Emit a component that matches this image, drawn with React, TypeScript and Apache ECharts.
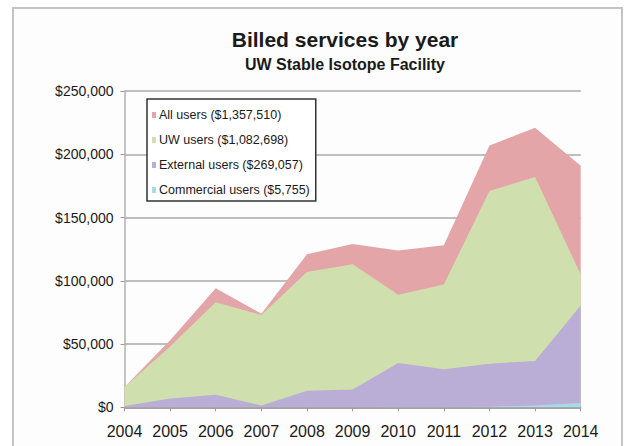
import React, { useEffect, useRef } from "react";
import * as echarts from "echarts";

const years = ["2004", "2005", "2006", "2007", "2008", "2009", "2010", "2011", "2012", "2013", "2014"];
const seriesNames = [
  "All users ($1,357,510)",
  "UW users ($1,082,698)",
  "External users ($269,057)",
  "Commercial users ($5,755)",
];
const allUsers = [16000, 53000, 94000, 74000, 121000, 129000, 124000, 128000, 207000, 221000, 191000];
const uwUsers = [16000, 48000, 83000, 73000, 107000, 113000, 89000, 97000, 171000, 182000, 105000];
const externalUsers = [1000, 7000, 10000, 1500, 13000, 14000, 35000, 30000, 34500, 36500, 80500];
const commercialUsers = [0, 0, 0, 0, 0, 0, 300, 200, 500, 1500, 3300];
const colors = ["#e4a5a8", "#cfe0ae", "#baaed6", "#a6dce8"];
const yTicks = [0, 50000, 100000, 150000, 200000, 250000];

const titleText = "Billed services by year";
const subtitleText = "UW Stable Isotope Facility";

export default function App() {
  const ref = useRef<HTMLDivElement>(null);
  useEffect(() => {
    if (!ref.current) return;
    const chart = echarts.init(ref.current, null, { renderer: "svg" });
    const dataSets = [allUsers, uwUsers, externalUsers, commercialUsers];
    const font = "'Liberation Sans', Arial, sans-serif";
    chart.setOption({
      animation: false,
      backgroundColor: "#ffffff",
      graphic: [
        {
          type: "rect",
          shape: { x: 13, y: 8, width: 609, height: 460 },
          style: { fill: "#fdfdfd", stroke: "#c4c4c4", lineWidth: 2 },
          z: -10,
        },
        {
          type: "text",
          x: 345,
          y: 39,
          style: {
            text: titleText,
            fill: "#1a1a1a",
            font: "bold 21px 'Liberation Sans', Arial, sans-serif",
            align: "center",
            verticalAlign: "middle",
          },
        },
        {
          type: "text",
          x: 345,
          y: 64,
          style: {
            text: subtitleText,
            fill: "#1a1a1a",
            font: "bold 16px 'Liberation Sans', Arial, sans-serif",
            align: "center",
            verticalAlign: "middle",
          },
        },
      ],
      legend: {
        orient: "vertical",
        left: 147,
        top: 99,
        padding: [8, 6, 3, 5],
        itemGap: 9,
        itemWidth: 4,
        itemHeight: 6,
        icon: "rect",
        borderColor: "#333333",
        borderWidth: 1.5,
        backgroundColor: "#ffffff",
        textStyle: { fontFamily: font, fontSize: 12.5, color: "#1a1a1a", lineHeight: 16, padding: [0, 0, 0, -2] },
        data: seriesNames,
      },
      grid: { left: 124.5, right: 49.3, top: 91, bottom: 38.7, containLabel: false },
      xAxis: {
        type: "category",
        data: years,
        boundaryGap: false,
        axisLine: { lineStyle: { color: "#9a9a9a", width: 1.5 } },
        axisTick: { show: true, length: 4, interval: 0, lineStyle: { color: "#9a9a9a" } },
        axisLabel: { fontFamily: font, fontSize: 16, color: "#1a1a1a", margin: 16, interval: 0 },
        splitLine: { show: false },
      },
      yAxis: {
        type: "value",
        min: yTicks[0],
        max: yTicks[yTicks.length - 1],
        interval: yTicks[1] - yTicks[0],
        axisLine: { show: true, lineStyle: { color: "#b0b0b0", width: 1.5 } },
        axisTick: { show: true, length: 4, lineStyle: { color: "#9a9a9a" } },
        axisLabel: {
          fontFamily: font,
          fontSize: 14,
          color: "#1a1a1a",
          margin: 11,
          formatter: (v: number) => "$" + v.toLocaleString("en-US"),
        },
        splitLine: { show: true, lineStyle: { color: "#a9a9a9", width: 1.5 } },
      },
      series: seriesNames.map((name, i) => ({
        name,
        type: "line",
        data: dataSets[i],
        symbol: "none",
        lineStyle: { width: 0 },
        areaStyle: { color: colors[i], opacity: 1 },
        itemStyle: { color: colors[i] },
        z: 2 + i,
      })),
    });
    return () => chart.dispose();
  }, []);
  return (
    <div
      ref={ref}
      style={{ position: "absolute", left: 0, top: 0, width: 630, height: 446 }}
    />
  );
}
